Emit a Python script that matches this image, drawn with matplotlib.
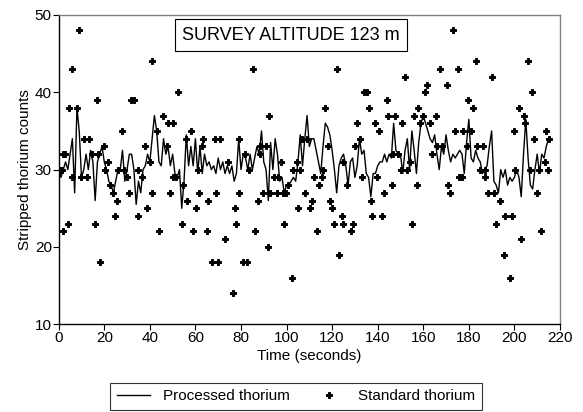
import numpy as np
import matplotlib
matplotlib.use("Agg")
import matplotlib.pyplot as plt

plt.rcParams['font.family'] = ['Liberation Sans', 'DejaVu Sans']

# Processed thorium, one value per second
proc_counts = [
    30, 29, 30, 31, 30, 32, 34, 27, 38, 35,
    29, 30, 32, 30, 32.5, 31, 26, 31, 32, 33,
    31, 30, 28.5, 28, 27, 28.5, 30, 30, 32.5, 28.5,
    30, 32, 32, 30, 25.5, 28.5, 27, 30, 30.5, 32,
    31, 34, 37, 35, 31, 30.5, 34, 32, 33, 30.5,
    32, 29.5, 29, 30, 25, 28.5, 34.5, 30.5, 33, 30.5,
    34, 29.5, 33, 29.5, 32, 30.5, 31, 30, 30.5, 29.5,
    31.5, 30, 31, 29.5, 30.5, 29.5, 30.5, 28.5, 29.5, 34,
    30, 32, 31.5, 30, 32, 30, 31.5, 33, 32, 35,
    31, 30, 26, 33.5, 30, 34, 32, 28.5, 29, 27,
    28, 28, 28.5, 29, 28.5, 31, 34.5, 30.5, 34, 37,
    33, 34, 34, 32.5, 31, 29.5, 33, 36, 35.5, 34.5,
    32.5, 30, 27, 30.5, 31.5, 32, 30.5, 28, 31, 31.5,
    29, 30.5, 34, 32, 32.5, 29.5, 29, 26.5, 29.5, 29.5,
    30.5, 31, 31, 32, 31, 32, 31.5, 36, 32.5, 32,
    32, 29.5, 32.5, 34, 30, 35, 32.5, 29.5, 33.5, 36,
    37, 36, 35, 34, 33.5, 34.5, 32, 30, 33, 32,
    34.5, 32.5, 31, 32, 31.5, 32, 32.5, 32, 29.5, 33.5,
    36.5, 31.5, 31, 32.5, 31.5, 31, 29.5, 30, 30.5, 33,
    35, 28.5, 28, 27, 30, 29, 30, 28, 29, 28.5,
    29, 30, 29, 26.5, 32, 36.5, 31.5, 28, 27.5, 30,
    32, 29.5, 32, 31.5, 33, 34,
]
proc_time = list(range(len(proc_counts)))

# Standard thorium points
std_time = [
    0.6, 1.3, 1.8, 2.0, 2.8, 3.9, 4.5, 6.0, 6.0, 8.0, 8.9, 9.8, 11.2, 12.2, 13.2,
    14.7, 15.9, 16.8, 17.4, 18.0, 20.0, 20.3, 21.8, 22.5, 24.0, 24.7, 25.4, 26.2,
    27.9, 28.8, 29.8, 30.9, 31.7, 33.2, 34.7, 34.7, 36.7, 37.9, 38.8, 40.2, 40.8,
    41.1, 43.3, 44.2, 45.6, 47.4, 48.1, 48.9, 50.3, 50.3, 51.5, 52.5, 54.0, 54.7,
    55.9, 56.5, 58.0, 58.8, 60.3, 61.3, 61.7, 62.8, 63.5, 65.2, 65.7, 67.2, 68.6,
    69.0, 70.1, 70.8, 73.0, 74.5, 76.4, 77.4, 77.8, 79.3, 79.3, 81.0, 81.8, 82.5,
    83.5, 85.4, 86.2, 87.4, 88.4, 88.4, 89.8, 90.9, 92.0, 92.3, 92.8, 94.6, 95.7,
    96.4, 97.6, 98.6, 99.0, 99.7, 100.8, 102.3, 103.0, 104.5, 105.2, 105.9, 106.7,
    108.1, 108.9, 110.3, 111.3, 112.2, 113.3, 114.3, 115.5, 116.2, 116.9, 118.1,
    119.1, 120.1, 121.0, 122.0, 123.0, 124.2, 124.9, 124.9, 126.7, 128.2, 129.3,
    130.1, 131.1, 132.3, 133.0, 134.0, 135.2, 136.4, 137.0, 137.4, 138.9, 139.9,
    140.7, 141.8, 142.8, 144.0, 144.7, 146.2, 146.9, 147.6, 149.1, 150.1, 150.6,
    152.0, 152.8, 154.2, 155.0, 156.0, 157.2, 157.9, 158.6, 160.1, 160.8, 161.8,
    163.0, 163.7, 165.6, 166.0, 167.5, 168.1, 170.3, 171.0, 171.8, 173.2, 174.0,
    175.2, 175.7, 176.9, 177.6, 179.1, 179.8, 181.0, 182.0, 183.0, 183.5, 185.0,
    186.4, 187.1, 187.1, 188.6, 190.0, 191.2, 191.8, 193.7, 195.6, 195.9, 198.1,
    199.1, 200.0, 200.3, 202.1, 202.9, 204.4, 204.7, 205.9, 206.9, 207.9, 208.8,
    209.8, 210.8, 211.7, 213.5, 213.8, 214.9, 215.0,
]
std_counts = [
    30, 30, 22, 32, 32, 23, 38, 43, 29, 38, 48, 29, 34, 29, 34,
    32, 23, 39, 32, 18, 33, 30, 31, 28, 27, 24, 26, 30,
    35, 30, 29, 27, 39, 39, 30, 24, 29, 33, 25, 31, 27,
    44, 35, 22, 37, 33, 36, 27, 36, 29, 29, 40, 23, 28,
    34, 26, 35, 22, 25, 30, 27, 33, 34, 22, 26, 18, 34,
    27, 18, 34, 21, 31, 14, 25, 23, 34, 27, 18, 32, 18,
    30, 43, 22, 26, 33, 32, 27, 33, 20, 37, 27, 29, 27,
    29, 31, 27, 23, 27, 28, 16, 30, 31, 25, 30, 34,
    27, 34, 25, 26, 29, 22, 28, 29, 30, 38, 33,
    26, 25, 23, 43, 19, 24, 23, 31, 28, 22, 23,
    33, 36, 34, 29, 40, 40, 38, 26, 24, 36, 29,
    35, 24, 27, 39, 37, 28, 32, 37, 32, 30, 36,
    42, 30, 31, 23, 37, 28, 38, 36, 37, 40, 41,
    36, 32, 37, 33, 43, 33, 41, 28, 27, 48, 35,
    43, 29, 29, 35, 33, 39, 35, 38, 44, 33, 30,
    33, 30, 29, 27, 42, 27, 23, 26, 19, 24, 16,
    24, 35, 30, 38, 21, 37, 36, 44, 30, 40, 34,
    27, 30, 22, 31, 35, 30, 34,
]

x_ticks = list(range(0, 221, 20))
y_ticks = [10, 20, 30, 40, 50]

fig = plt.figure(figsize=(5.83, 4.12), dpi=100)
ax = fig.add_axes([0.1007, 0.2129, 0.8598, 0.7507])

ax.plot(proc_time, proc_counts, color='black', linewidth=1.0, label='Processed thorium')
ax.plot(std_time, std_counts, linestyle='none', marker='P', markersize=5.0,
        markeredgewidth=0.7, color='black', label='Standard thorium')

ax.set_xlim(0, 220)
ax.set_ylim(10, 50)
ax.set_xticks(x_ticks)
ax.set_yticks(y_ticks)
ax.tick_params(direction='out', length=4, width=0.8, labelsize=11, pad=1, colors='black')
ax.spines['top'].set_color('#808080')
ax.spines['right'].set_color('#808080')
for s in ax.spines.values():
    s.set_linewidth(1.0)

ax.set_xlabel('Time (seconds)', fontsize=11, labelpad=2.5)
ax.set_ylabel('Stripped thorium counts', fontsize=11, labelpad=2)

ax.text(0.4635, 0.935, 'SURVEY ALTITUDE 123 m', transform=ax.transAxes,
        ha='center', va='center', fontsize=13,
        bbox=dict(boxstyle='square,pad=0.42', facecolor='white', edgecolor='black', linewidth=0.8))

leg = fig.legend(loc='upper center', bbox_to_anchor=(0.508, 0.0716), ncol=2,
                 fontsize=11, frameon=True, fancybox=False, handlelength=2.2,
                 columnspacing=1.5, borderpad=0.45, borderaxespad=0)
leg.get_frame().set_edgecolor('black')
leg.get_frame().set_linewidth(0.8)

fig.savefig('out.png', dpi=100)
